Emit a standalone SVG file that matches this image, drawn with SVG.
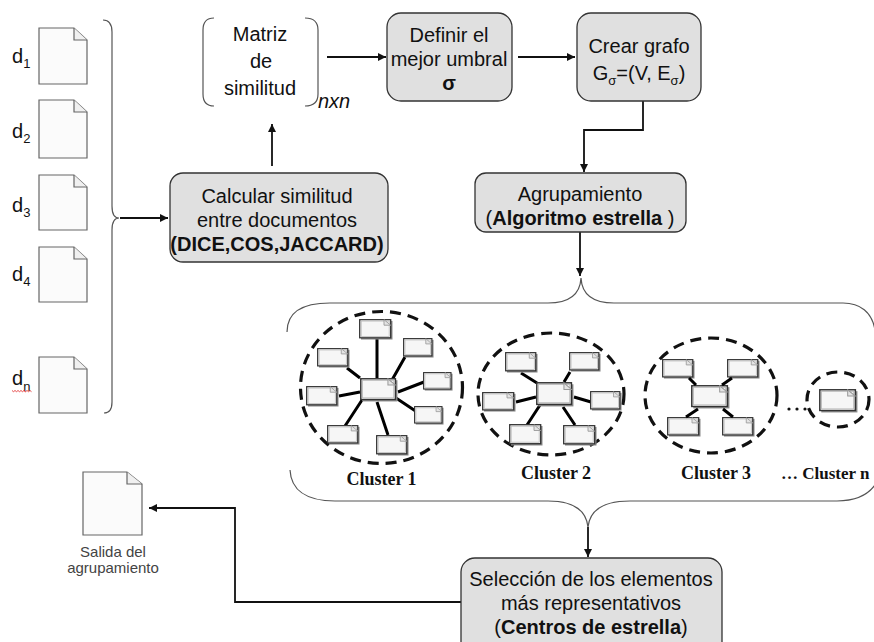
<svg xmlns="http://www.w3.org/2000/svg" xmlns:xlink="http://www.w3.org/1999/xlink" width="874" height="642" viewBox="0 0 874 642">
<style>
.box{fill:#e0e0e0;stroke:#333;stroke-width:1.3}
.t{font-family:"Liberation Sans",Arial,sans-serif;font-size:20px;fill:#111;text-anchor:middle}
.b{font-weight:bold}
.lbl{font-family:"Liberation Sans",Arial,sans-serif;font-size:20px;fill:#111}
.conn{fill:none;stroke:#111;stroke-width:1.8}
.brace{fill:none;stroke:#555;stroke-width:1.2}
.doc{fill:#fbfbfb;stroke:#666;stroke-width:1.2}
.fold{fill:#f0f0f0;stroke:#666;stroke-width:1.2}
.dash{fill:none;stroke:#111;stroke-width:3.2;stroke-dasharray:11 7}
.edge{stroke:#000;stroke-width:3;fill:none}
.cl{font-family:"Liberation Serif","Times New Roman",serif;font-weight:bold;font-size:18px;fill:#111;text-anchor:middle}
</style>
<defs>
<marker id="arr" viewBox="0 0 10 10" refX="10" refY="5" markerUnits="userSpaceOnUse" markerWidth="9" markerHeight="8" orient="auto">
<path d="M0,0 L10,5 L0,10 z" fill="#111"/>
</marker>
<symbol id="sd" viewBox="0 0 34 22" preserveAspectRatio="none">
<rect x="2" y="2" width="31.5" height="19.5" fill="#8a8a8a"/>
<rect x="0.7" y="0.7" width="31" height="19" fill="#f6f6f6" stroke="#333" stroke-width="1.3"/>
<rect x="2.2" y="2.2" width="28" height="16" fill="none" stroke="#bbb" stroke-width="0.8"/>
<path d="M25,0.7 V6.5 H31.7 Z" fill="#e4e4e4" stroke="#999" stroke-width="0.9"/>
</symbol>
</defs>

<!-- input documents -->
<g id="docs">
<g id="d1"><path class="doc" d="M39,28 H74 L87,40 V84 H39 Z"/><path class="fold" d="M74,28 V40 H87"/>
<text class="lbl" x="12" y="63">d<tspan font-size="13" dy="5">1</tspan></text></g>
<g id="d2"><path class="doc" d="M39,100 H74 L87,112 V158 H39 Z"/><path class="fold" d="M74,100 V112 H87"/>
<text class="lbl" x="12" y="138">d<tspan font-size="13" dy="5">2</tspan></text></g>
<g id="d3"><path class="doc" d="M39,175 H74 L87,187 V230 H39 Z"/><path class="fold" d="M74,175 V187 H87"/>
<text class="lbl" x="12" y="212">d<tspan font-size="13" dy="5">3</tspan></text></g>
<g id="d4"><path class="doc" d="M39,247 H74 L87,259 V302 H39 Z"/><path class="fold" d="M74,247 V259 H87"/>
<text class="lbl" x="12" y="281">d<tspan font-size="13" dy="5">4</tspan></text></g>
<g id="dn"><path class="doc" d="M39,357 H74 L87,369 V413 H39 Z"/><path class="fold" d="M74,357 V369 H87"/>
<text class="lbl" x="12" y="385">d<tspan font-size="13" dy="6">n</tspan></text>
<path d="M12,390.5 l1.5,1.2 l1.5,-1.2 l1.5,1.2 l1.5,-1.2 l1.5,1.2 l1.5,-1.2 l1.5,1.2 l1.5,-1.2 l1.5,1.2 M24,390.5 l1.5,1.2 l1.5,-1.2 l1.5,1.2 l1.5,-1.2 l1.5,1.2" fill="none" stroke="#e02020" stroke-width="0.8"/></g>
</g>

<!-- braces -->
<g id="braces">
<path class="brace" d="M103,20 C109,20 112,24 112,32 L112,206 C112,213 114,218 119,218 C114,218 112,223 112,230 L112,402 C112,409 109,413 104,413"/>
<path class="brace" d="M287,332 C287,314 300,303 330,303 L548,303 C568,303 580,296 581,278 C582,296 594,303 614,303 L843,303 C860,303 872,312 875,330"/>
<path class="brace" d="M290,470 C291,489 305,501 335,501 L548,501 C572,501 586,509 588,527 C590,509 604,501 630,501 L837,501 C855,501 867,496 875,485"/>
</g>

<!-- connectors -->
<g id="connectors">
<path class="conn" d="M120,218 H168" marker-end="url(#arr)"/>
<path class="conn" d="M272,166 V124" marker-end="url(#arr)"/>
<path class="conn" d="M327,57 H386" marker-end="url(#arr)"/>
<path class="conn" d="M518,57 H575" marker-end="url(#arr)"/>
<path class="conn" d="M643,101 V130 H584 V172" marker-end="url(#arr)"/>
<path class="conn" d="M580,232 V276" marker-end="url(#arr)"/>
<path class="conn" d="M588,527 V557" marker-end="url(#arr)"/>
<path class="conn" d="M461,602 H235 V508 H149" marker-end="url(#arr)"/>
</g>

<!-- Calcular similitud -->
<g id="calcular">
<rect class="box" x="170" y="173" width="218" height="89" rx="13"/>
<text class="t" x="277" y="203">Calcular similitud</text>
<text class="t" x="277" y="227">entre documentos</text>
<text class="t b" x="277" y="251">(DICE,COS,JACCARD)</text>
</g>

<!-- Matriz de similitud -->
<g id="matriz">
<path class="brace" d="M214,18 C207,18 203,22 203,30 L203,94 C203,102 207,106 214,106"/>
<path class="brace" d="M305,18 C313,18 318,22 318,30 L318,94 C318,102 313,106 305,106"/>
<text class="t" x="260" y="41">Matriz</text>
<text class="t" x="261" y="68">de</text>
<text class="t" x="260" y="95">similitud</text>
<text class="lbl" x="318" y="108" font-size="18" font-style="italic">nxn</text>
</g>

<!-- Definir umbral -->
<g id="definir">
<rect class="box" x="387" y="13" width="125" height="88" rx="14"/>
<text class="t" x="449" y="42">Definir el</text>
<text class="t" x="449" y="66">mejor umbral</text>
<text class="t b" x="449" y="90">σ</text>
</g>

<!-- Crear grafo -->
<g id="crear">
<rect class="box" x="577" y="13" width="124" height="88" rx="14"/>
<text class="t" x="639" y="53">Crear grafo</text>
<text class="t" x="639" y="80">G<tspan font-size="13" dy="5">σ</tspan><tspan dy="-5">=(V, E</tspan><tspan font-size="13" dy="5">σ</tspan><tspan dy="-5">)</tspan></text>
</g>

<!-- Agrupamiento -->
<g id="agrupamiento">
<rect class="box" x="475" y="173" width="211" height="59" rx="11"/>
<text class="t" x="580" y="201">Agrupamiento</text>
<text class="t" x="580" y="225">(<tspan font-weight="bold">Algoritmo estrella </tspan>)</text>
</g>

<!-- Clusters -->
<g id="cluster1">
<ellipse class="dash" cx="381.5" cy="387.5" rx="81" ry="76"/>
<path class="edge" d="M377,378 L377,339 M392,380 L405,357 M398,392 L424,382 M396,398 L417,412 M377,402 L388,435 M362,400 L345,426 M360,392 L339,396 M360,378 L347,368"/>
<use xlink:href="#sd" x="359" y="319" width="34" height="21"/>
<use xlink:href="#sd" x="403" y="338" width="31" height="20"/>
<use xlink:href="#sd" x="423" y="372" width="30" height="19"/>
<use xlink:href="#sd" x="414" y="406" width="30" height="19"/>
<use xlink:href="#sd" x="376" y="435" width="33" height="21"/>
<use xlink:href="#sd" x="327" y="425" width="33" height="20"/>
<use xlink:href="#sd" x="306" y="386" width="33" height="21"/>
<use xlink:href="#sd" x="317" y="348" width="33" height="20"/>
<use xlink:href="#sd" x="360" y="378" width="38" height="24"/>
<text class="cl" x="381.5" y="485">Cluster 1</text>
</g>

<g id="cluster2">
<ellipse class="dash" cx="551" cy="394" rx="73" ry="61"/>
<path class="edge" d="M521,373 L537,383 M564,382 L570,372 M516,402 L536,397 M574,397 L591,402 M542,402 L527,425 M563,407 L575,425"/>
<use xlink:href="#sd" x="505" y="352" width="33" height="21"/>
<use xlink:href="#sd" x="569" y="352" width="32" height="20"/>
<use xlink:href="#sd" x="482" y="392" width="34" height="20"/>
<use xlink:href="#sd" x="590" y="391" width="32" height="20"/>
<use xlink:href="#sd" x="509" y="424" width="34" height="22"/>
<use xlink:href="#sd" x="563" y="425" width="34" height="21"/>
<use xlink:href="#sd" x="536" y="382" width="38" height="25"/>
<text class="cl" x="556" y="479">Cluster 2</text>
</g>

<g id="cluster3">
<ellipse class="dash" cx="711" cy="395.5" rx="66" ry="57.5"/>
<use xlink:href="#sd" x="662" y="359" width="33" height="20"/>
<use xlink:href="#sd" x="727" y="359" width="33" height="20"/>
<use xlink:href="#sd" x="667" y="417" width="34" height="20"/>
<use xlink:href="#sd" x="722" y="417" width="33" height="20"/>
<use xlink:href="#sd" x="691" y="385" width="39" height="24"/>
<path class="edge" stroke-width="2.6" d="M696,385 L689,378 M722,385 L732,378 M698,409 L686,417 M723,409 L733,417"/>
<text class="cl" x="716" y="479">Cluster 3</text>
</g>

<g id="clustern">
<ellipse class="dash" cx="838" cy="399.5" rx="31" ry="27.5"/>
<use xlink:href="#sd" x="819" y="389" width="39" height="24"/>
<circle cx="789" cy="409" r="1.6" fill="#111"/>
<circle cx="797" cy="409" r="1.6" fill="#111"/>
<circle cx="805" cy="409" r="1.6" fill="#111"/>
<text class="cl" x="781" y="479" style="text-anchor:start;font-size:17px">… Cluster n</text>
</g>

<!-- Selección -->
<g id="seleccion">
<rect class="box" x="461" y="558" width="261" height="100" rx="14"/>
<text class="t" x="591" y="586">Selección de los elementos</text>
<text class="t" x="591" y="610">más representativos</text>
<text class="t" x="591" y="634">(<tspan font-weight="bold">Centros de estrella</tspan>)</text>
</g>

<!-- Output -->
<g id="salida">
<path class="doc" d="M83,472 H127 L142,484 V535 H83 Z"/><path class="fold" d="M127,472 V484 H142"/>
<text class="t" x="113" y="557" style="font-size:15px;fill:#444">Salida del</text>
<text class="t" x="113" y="573" style="font-size:15px;fill:#444">agrupamiento</text>
</g>
</svg>
